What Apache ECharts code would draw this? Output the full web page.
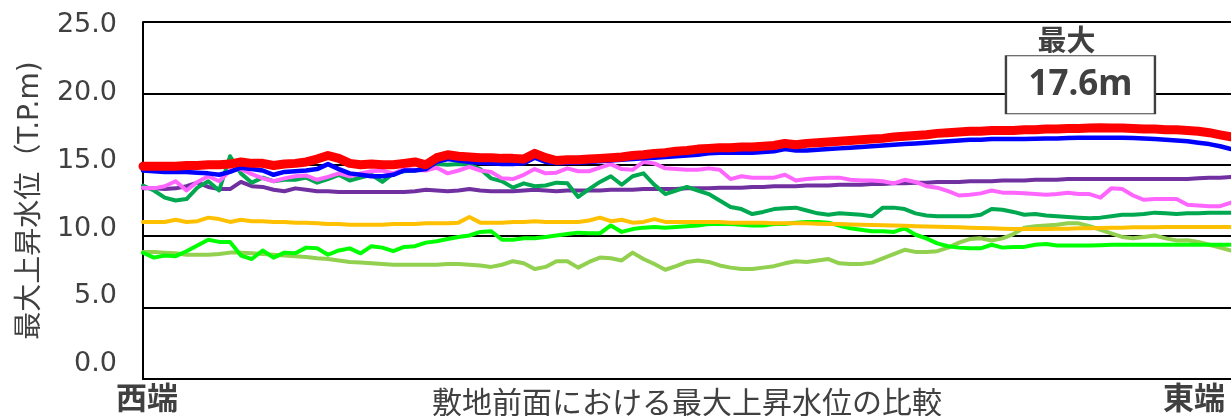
<!DOCTYPE html>
<html>
<head>
<meta charset="utf-8">
<script src="https://cdn.jsdelivr.net/npm/echarts@6/dist/echarts.min.js"></script>
<style>
  html, body { margin: 0; padding: 0; background: #fff; }
  #chart { width: 1231px; height: 416px; }
</style>
</head>
<body>
<div id="chart"></div>
<script>
// Maximum water-level rise (T.P.m) along the site frontage, west end -> east end
const caseRed = [14.9,14.9,14.9,14.9,14.95,14.95,15.0,15.0,15.05,15.2, 15.1,15.1,14.95,15.05,15.1,15.2,15.4,15.65,15.45,15.1, 15.0,15.05,15.0,15.0,15.1,15.2,15.0,15.5,15.7,15.6, 15.55,15.5,15.5,15.45,15.45,15.4,15.8,15.5,15.3,15.35, 15.35,15.4,15.45,15.5,15.55,15.65,15.7,15.8,15.85,15.95, 16.0,16.1,16.15,16.2,16.2,16.25,16.25,16.3,16.35,16.5, 16.4,16.5,16.55,16.6,16.65,16.7,16.75,16.8,16.85,16.95, 17.0,17.05,17.1,17.2,17.25,17.3,17.35,17.35,17.4,17.4, 17.4,17.45,17.45,17.5,17.5,17.55,17.55,17.58,17.6,17.58, 17.57,17.55,17.5,17.5,17.45,17.45,17.4,17.35,17.25,17.1, 16.95];
const caseBlue = [14.6,14.55,14.5,14.5,14.5,14.45,14.4,14.3,14.5,14.8, 14.7,14.6,14.3,14.5,14.55,14.6,14.7,15.05,14.7,14.4, 14.3,14.2,14.2,14.3,14.6,14.6,14.7,15.2,15.4,15.3, 15.2,15.15,15.1,15.05,15.05,15.1,15.5,15.2,15.1,15.15, 15.15,15.2,15.25,15.3,15.35,15.4,15.45,15.5,15.55,15.6, 15.65,15.7,15.8,15.85,15.85,15.85,15.85,15.9,15.95,16.1, 16.0,16.0,16.05,16.1,16.15,16.2,16.25,16.3,16.35,16.4, 16.45,16.5,16.55,16.6,16.65,16.7,16.75,16.75,16.8,16.8, 16.8,16.8,16.82,16.85,16.85,16.88,16.9,16.9,16.9,16.9, 16.9,16.88,16.85,16.8,16.75,16.7,16.65,16.55,16.45,16.3, 16.1];
const casePink = [13.4,13.35,13.5,13.85,13.2,13.8,14.2,13.85,14.6,14.7, 14.35,14.05,13.85,14.05,14.2,14.25,13.95,14.15,14.4,14.2, 14.4,14.55,14.6,14.4,14.7,14.65,14.6,14.8,14.4,14.6, 14.85,14.6,14.5,14.05,14.0,14.3,14.7,14.4,14.45,14.75, 14.55,14.55,14.8,15.05,14.7,14.65,15.2,15.1,14.75,14.7, 14.65,14.65,14.75,14.65,14.0,14.2,14.1,14.1,14.1,14.3, 13.9,14.0,14.05,14.1,14.1,13.95,13.9,13.9,13.85,13.7, 13.95,13.8,13.5,13.4,13.15,12.85,12.9,13.0,13.2,13.05, 13.05,13.0,12.95,12.9,12.95,13.05,12.95,12.95,12.7,13.35, 13.3,12.85,12.55,12.6,12.6,12.6,12.2,12.15,12.1,12.1, 12.35];
const casePurple = [13.35,13.35,13.3,13.35,13.5,13.75,13.45,13.3,13.3,13.8, 13.5,13.45,13.25,13.15,13.35,13.25,13.15,13.15,13.1,13.1, 13.1,13.1,13.1,13.1,13.1,13.15,13.25,13.2,13.15,13.2, 13.3,13.2,13.15,13.15,13.15,13.2,13.25,13.2,13.15,13.2, 13.2,13.2,13.2,13.25,13.25,13.25,13.3,13.3,13.3,13.3, 13.35,13.35,13.35,13.4,13.4,13.4,13.45,13.45,13.5,13.5, 13.5,13.55,13.55,13.55,13.6,13.6,13.6,13.65,13.65,13.7, 13.7,13.75,13.75,13.8,13.8,13.8,13.85,13.85,13.85,13.9, 13.9,13.9,13.95,13.95,13.95,14.0,14.0,14.0,14.0,14.0, 14.0,14.0,14.0,14.0,14.0,14.0,14.0,14.05,14.1,14.1, 14.15];
const caseDarkGreen = [13.55,13.2,12.7,12.5,12.6,13.4,13.85,13.2,15.6,14.4, 13.75,14.1,13.85,13.95,13.95,14.1,13.75,14.0,14.3,13.9, 14.1,14.3,13.8,14.4,14.55,14.6,14.8,15.05,15.0,15.05, 15.0,14.7,14.05,13.85,13.4,13.7,13.5,13.55,13.75,13.7, 12.75,13.3,13.8,14.2,13.6,14.2,14.4,13.6,12.95,13.2, 13.45,13.2,12.95,12.5,12.05,11.9,11.55,11.7,11.9,11.95, 12.0,11.8,11.6,11.5,11.6,11.55,11.5,11.4,12.0,12.0, 11.9,11.6,11.45,11.4,11.4,11.4,11.4,11.5,11.9,11.85, 11.7,11.5,11.55,11.45,11.4,11.35,11.3,11.25,11.3,11.4, 11.5,11.5,11.55,11.65,11.6,11.55,11.6,11.6,11.65,11.65, 11.65];
const caseOrange = [11.0,11.0,11.0,11.15,11.0,11.05,11.3,11.2,11.0,11.15, 11.05,11.05,11.0,11.0,10.95,10.95,10.9,10.85,10.85,10.8, 10.8,10.8,10.8,10.85,10.85,10.85,10.9,10.9,10.9,10.95, 11.35,10.95,10.95,10.95,11.0,11.0,11.05,11.0,11.0,11.0, 11.0,11.1,11.3,11.05,11.15,10.95,11.0,11.2,11.0,11.0, 11.0,11.0,11.0,11.0,10.95,10.95,10.95,10.95,10.9,10.9, 10.9,10.9,10.88,10.85,10.85,10.82,10.8,10.78,10.77,10.75, 10.73,10.7,10.68,10.66,10.64,10.62,10.6,10.58,10.55,10.52, 10.5,10.5,10.5,10.5,10.52,10.53,10.55,10.56,10.58,10.6, 10.6,10.62,10.62,10.63,10.64,10.65,10.65,10.65,10.65,10.65, 10.65];
const caseLime = [8.84,8.5,8.65,8.6,8.95,9.35,9.75,9.6,9.6,8.65, 8.4,9.0,8.5,8.85,8.8,9.2,9.15,8.7,9.0,9.15, 8.8,9.3,9.2,8.95,9.25,9.3,9.55,9.65,9.8,9.95, 10.05,10.3,10.35,9.75,9.75,9.85,9.85,9.95,10.05,10.15, 10.25,10.2,10.2,10.75,10.3,10.5,10.6,10.65,10.6,10.65, 10.7,10.75,10.85,10.85,10.85,10.8,10.75,10.75,10.85,10.85, 10.95,11.0,11.0,10.95,10.75,10.55,10.45,10.35,10.35,10.3, 10.55,10.1,9.85,9.5,9.3,9.2,9.15,9.15,9.4,9.2, 9.25,9.25,9.4,9.45,9.35,9.35,9.35,9.35,9.37,9.4, 9.4,9.4,9.4,9.4,9.4,9.4,9.4,9.4,9.4,9.4, 9.4];
const caseOlive = [8.9,8.9,8.85,8.8,8.7,8.7,8.7,8.75,8.85,8.85, 8.8,8.75,8.7,8.65,8.6,8.55,8.45,8.4,8.3,8.2, 8.15,8.1,8.05,8.0,8.0,8.0,8.0,8.0,8.05,8.05, 8.0,7.95,7.85,8.0,8.25,8.1,7.7,7.85,8.25,8.25, 7.8,8.2,8.5,8.45,8.3,8.85,8.4,8.05,7.65,7.9, 8.2,8.3,8.2,7.95,7.8,7.7,7.7,7.8,7.9,8.1, 8.25,8.2,8.3,8.4,8.1,8.05,8.05,8.15,8.45,8.75, 9.05,8.9,8.9,8.95,9.2,9.55,9.8,9.85,9.7,9.85, 10.15,10.6,10.7,10.75,10.8,10.9,10.9,10.7,10.45,10.2, 9.95,9.85,9.95,10.05,9.85,9.7,9.72,9.6,9.4,9.2, 9.0];

// section numbers along the frontage (one per computed point)
const sections = caseRed.map((_, i) => i + 1);
const yTicks = [0, 5, 10, 15, 20, 25];

const TEXT = '#404040';
const FONT_LATIN = '"DejaVu Sans", "Noto Sans CJK JP", sans-serif';
const FONT_JP = '"Noto Sans CJK JP", sans-serif';

function line(name, data, color, width, z) {
  return {
    name, type: 'line', data, z,
    symbol: 'none', smooth: false,
    lineStyle: { color, width, join: 'round', cap: 'round' },
    itemStyle: { color },
    emphasis: { disabled: true }
  };
}

const series = [
  line('olive', caseOlive, '#92D050', 4, 2),
  line('lime', caseLime, '#00FF00', 4, 3),
  line('orange', caseOrange, '#FFC000', 4, 4),
  line('purple', casePurple, '#7030A0', 4, 5),
  line('darkgreen', caseDarkGreen, '#00A850', 4, 6),
  line('pink', casePink, '#FF66FF', 4, 7),
  line('blue', caseBlue, '#0000FF', 4.5, 8),
  line('red', caseRed, '#FF0000', 9, 9)
];

// highest value of the envelope, boxed and titled
series[7].markPoint = {
  silent: true,
  animation: false,
  data: [
    {
      type: 'max', name: '最大',
      symbol: 'rect', symbolSize: [149, 58], symbolOffset: [-20, -43],
      itemStyle: { color: '#ffffff', borderColor: '#404040', borderWidth: 1.5 },
      label: {
        show: true, position: 'inside',
        formatter: p => p.value.toFixed(1) + 'm',
        fontFamily: '"Noto Sans", sans-serif', fontWeight: 'bold', fontSize: 35, color: TEXT
      }
    },
    {
      type: 'max', name: '最大',
      symbol: 'rect', symbolSize: [2, 2], symbolOffset: [-34, -88],
      itemStyle: { color: 'rgba(0,0,0,0)' },
      label: {
        show: true, position: 'inside',
        formatter: p => p.name,
        fontFamily: FONT_JP, fontWeight: 'bold', fontSize: 29, color: TEXT
      }
    }
  ]
};

const chart = echarts.init(document.getElementById('chart'), null, { renderer: 'canvas' });
chart.setOption({
  animation: false,
  backgroundColor: '#ffffff',
  grid: { left: 143, right: 0, top: 22, bottom: 37, containLabel: false, outerBoundsMode: 'none' },
  xAxis: {
    type: 'category', data: sections, boundaryGap: false,
    axisLine: { lineStyle: { color: '#000', width: 2 } },
    axisTick: { show: false }, axisLabel: { show: false }, splitLine: { show: false },
    name: '敷地前面における最大上昇水位の比較',
    nameLocation: 'middle', nameGap: 8,
    nameTextStyle: { fontFamily: FONT_JP, fontSize: 30, color: TEXT, verticalAlign: 'top' }
  },
  yAxis: [
    {
      type: 'value', min: 0, max: 25, interval: 5,
      axisLine: { show: true, lineStyle: { color: '#000', width: 2 } },
      axisTick: { show: false }, axisLabel: { show: false },
      splitLine: { lineStyle: { color: '#000', width: 2 } },
      name: '最大上昇水位（T.P.m)',
      nameLocation: 'middle', nameGap: 98, nameRotate: 90,
      nameTextStyle: { fontFamily: FONT_LATIN, fontSize: 28, color: TEXT }
    },
    {
      // tick labels sit on their own slightly compressed scale
      type: 'value', min: -1.08, max: 25.22, position: 'left',
      axisLine: { show: false }, axisTick: { show: false }, splitLine: { show: false },
      axisLabel: {
        customValues: yTicks,
        formatter: v => v.toFixed(1),
        fontFamily: FONT_LATIN, fontSize: 27, color: TEXT, margin: 26
      }
    }
  ],
  graphic: [
    { type: 'text', left: 116, top: 382, silent: true,
      style: { text: '西端', font: 'bold 31px "Noto Sans CJK JP"', fill: TEXT } },
    { type: 'text', right: 6, top: 382, silent: true,
      style: { text: '東端', font: 'bold 31px "Noto Sans CJK JP"', fill: TEXT } }
  ],
  series
});
</script>
</body>
</html>
